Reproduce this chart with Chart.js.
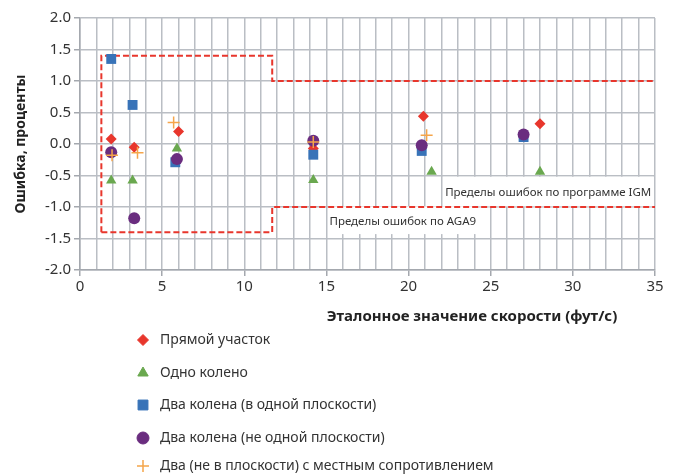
<!DOCTYPE html>
<html>
<head>
<meta charset="utf-8">
<script src="https://cdn.jsdelivr.net/npm/chart.js@4"></script>
<style>
  html, body { margin: 0; padding: 0; background: #fff; }
  #wrap { width: 678px; height: 475px; }
</style>
</head>
<body>
<div id="wrap"><canvas id="c"></canvas></div>
<script>
// values
const seriesNames = [
  'Прямой участок',
  'Одно колено',
  'Два колена (в одной плоскости)',
  'Два колена (не одной плоскости)',
  'Два (не в плоскости) с местным сопротивлением'
];
const straightX = [1.9, 3.3, 6.0, 14.2, 20.9, 28.0];
const straightY = [0.08, -0.05, 0.20, -0.07, 0.44, 0.32];
const oneElbowX = [1.9, 3.2, 5.9, 14.2, 21.4, 28.0];
const oneElbowY = [-0.58, -0.58, -0.07, -0.57, -0.44, -0.44];
const twoInPlaneX = [1.9, 3.2, 5.8, 14.2, 20.8, 27.0];
const twoInPlaneY = [1.35, 0.62, -0.29, -0.17, -0.11, 0.11];
const twoOutPlaneX = [1.9, 3.3, 5.9, 14.2, 20.8, 27.0];
const twoOutPlaneY = [-0.13, -1.18, -0.24, 0.05, -0.02, 0.15];
const disturbX = [1.95, 3.5, 5.7, 14.2, 21.1];
const disturbY = [-0.18, -0.14, 0.34, 0.03, 0.14];

// error limit envelopes (AGA9 box, then IGM band)
const upperLimitX = [1.3, 1.3, 11.7, 11.7, 35];
const upperLimitY = [-1.4, 1.4, 1.4, 1.0, 1.0];
const lowerLimitX = [1.3, 11.7, 11.7, 35];
const lowerLimitY = [-1.4, -1.4, -1.0, -1.0];

const igmLabel = 'Пределы ошибок по программе IGM';
const aga9Label = 'Пределы ошибок по AGA9';
const xTitle = 'Эталонное значение скорости (фут/с)';
const yTitle = 'Ошибка, проценты';

function pts(xs, ys) { return xs.map((x, i) => ({ x: x, y: ys[i] })); }

const RED = '#e8362c';
const markers = [
  { style: 'rectRot', color: RED, r: 5.5 },
  { style: 'triangle', color: '#6aa84f', r: 6 },
  { style: 'rect', color: '#3873b8', r: 7 },
  { style: 'circle', color: '#6a2d7f', r: 6 },
  { style: 'cross', color: '#f5a54a', r: 6 }
];
const seriesData = [
  pts(straightX, straightY),
  pts(oneElbowX, oneElbowY),
  pts(twoInPlaneX, twoInPlaneY),
  pts(twoOutPlaneX, twoOutPlaneY),
  pts(disturbX, disturbY)
];

const limitStyle = {
  type: 'line', showLine: true, borderColor: RED, borderWidth: 2,
  borderDash: [6, 3], pointRadius: 0, fill: false, order: 10
};

const datasets = seriesData.map((d, i) => ({
  label: seriesNames[i],
  data: d,
  pointStyle: markers[i].style,
  pointRadius: markers[i].r,
  backgroundColor: markers[i].color,
  borderColor: markers[i].color,
  borderWidth: markers[i].style === 'cross' ? 1.5 : 0,
  order: 5 - i
}));
datasets.push(Object.assign({ label: 'upper', data: pts(upperLimitX, upperLimitY) }, limitStyle));
datasets.push(Object.assign({ label: 'lower', data: pts(lowerLimitX, lowerLimitY) }, limitStyle));

// white label boxes, x title and the vertical legend
const extras = {
  id: 'extras',
  beforeDatasetsDraw(chart) {
    const { ctx, scales: { x, y } } = chart;
    ctx.save();
    ctx.font = '11.5px "Noto Sans"';
    ctx.textAlign = 'center';
    ctx.textBaseline = 'middle';
    const box = (x0, x1, y0, y1, txt) => {
      const l = x.getPixelForValue(x0), r = x.getPixelForValue(x1);
      const t = y.getPixelForValue(y0), b = y.getPixelForValue(y1);
      ctx.fillStyle = '#fff';
      ctx.fillRect(l, t, r - l, b - t);
      ctx.fillStyle = '#333';
      ctx.fillText(txt, (l + r) / 2, (t + b) / 2 + 1);
    };
    box(22.1, 34.9, -0.52, -0.99, igmLabel);
    box(15.1, 24.2, -0.99, -1.43, aga9Label);
    ctx.restore();
  },
  afterDraw(chart) {
    const { ctx } = chart;
    ctx.save();
    ctx.fillStyle = '#222';
    ctx.font = 'bold 15px "Noto Sans"';
    ctx.textAlign = 'center';
    ctx.textBaseline = 'middle';
    ctx.fillText(xTitle, 472, 317);
    const rows = [340, 373, 405, 438, 466];
    ctx.font = '14px "Noto Sans"';
    ctx.textAlign = 'left';
    seriesNames.forEach((name, i) => {
      const m = markers[i];
      ctx.fillStyle = m.color;
      ctx.strokeStyle = m.color;
      ctx.lineWidth = m.style === 'cross' ? 1.5 : 0;
      Chart.helpers.drawPoint(ctx, { pointStyle: m.style, radius: m.r, borderWidth: ctx.lineWidth, rotation: 0 }, 143, rows[i]);
      ctx.fillStyle = '#333';
      ctx.fillText(name, 160, rows[i]);
    });
    ctx.restore();
  }
};

new Chart(document.getElementById('c'), {
  type: 'scatter',
  data: { datasets: datasets },
  plugins: [extras],
  options: {
    responsive: true,
    maintainAspectRatio: false,
    animation: false,
    layout: { padding: { left: 0, top: 18, right: 23, bottom: 0 } },
    plugins: { legend: { display: false }, tooltip: { enabled: false } },
    scales: {
      x: {
        type: 'linear', min: 0, max: 35,
        afterFit(s) { s.height = 205; },
        ticks: {
          stepSize: 1, autoSkip: false, maxRotation: 0, color: '#333',
          font: { family: '"Noto Sans"', size: 15 }, padding: 2,
          callback: v => (v % 5 === 0 ? v : '')
        },
        grid: {
          color: '#babec4', lineWidth: 1.5, tickLength: 6,
          tickColor: c => (c.tick && c.tick.value % 5 === 0 ? '#a4a8ae' : 'rgba(0,0,0,0)')
        },
        border: { color: '#a4a8ae', width: 1.5 }
      },
      y: {
        min: -2, max: 2,
        afterFit(s) { s.width = 80; },
        title: {
          display: true, text: yTitle, color: '#222',
          font: { family: '"Noto Sans"', size: 14, weight: 'bold' },
          padding: { top: 13, bottom: 0 }
        },
        ticks: {
          stepSize: 0.5, color: '#333', padding: 3,
          font: { family: '"Noto Sans"', size: 15 },
          callback: v => v.toFixed(1)
        },
        grid: { color: '#babec4', lineWidth: 1.5, tickLength: 6, tickColor: '#a4a8ae' },
        border: { color: '#a4a8ae', width: 1.5 }
      }
    }
  }
});
</script>
</body>
</html>
